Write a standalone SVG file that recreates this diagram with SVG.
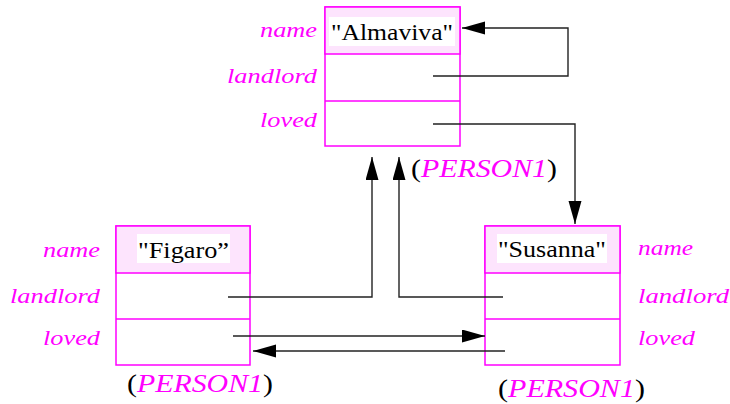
<svg xmlns="http://www.w3.org/2000/svg" width="730" height="404" viewBox="0 0 730 404" font-family="Liberation Serif, DejaVu Serif, Noto Serif, FreeSerif, Times, serif">
  <style>
    .box { fill: #ffffff; stroke: #ff00ff; stroke-width: 1.5; }
    .head { fill: #fde4fd; stroke: #ff00ff; stroke-width: 1.5; }
    .sep { stroke: #ff00ff; stroke-width: 1.5; }
    .tag { fill: #ffffff; }
    .val { font-size: 23px; fill: #000000; }
    .fld { font-style: italic; font-size: 22px; fill: #ff00ff; }
    .typ { font-size: 26px; fill: #000000; }
    .typ tspan.t { font-style: italic; fill: #ff00ff; }
    .wire { fill: none; stroke: #222222; stroke-width: 1.4; marker-end: url(#arrow); }
  </style>
  <defs>
    <marker id="arrow" markerUnits="userSpaceOnUse" markerWidth="24" markerHeight="14" refX="23" refY="6.5" orient="auto">
      <path d="M0,0 L23,6.5 L0,13 Z" fill="#000000"/>
    </marker>
  </defs>

  <rect width="730" height="404" fill="#ffffff"/>

  <!-- Almaviva record -->
  <g id="almaviva">
    <rect class="box" x="325" y="7" width="135" height="139"/>
    <rect class="head" x="325" y="7" width="135" height="47"/>
    <rect class="tag" x="329" y="17" width="126" height="29"/>
    <line class="sep" x1="325" y1="101" x2="460" y2="101"/>
    <text class="val" x="331" y="40" textLength="122" lengthAdjust="spacingAndGlyphs">"Almaviva"</text>
    <text class="fld" x="317" y="37" text-anchor="end" textLength="57" lengthAdjust="spacingAndGlyphs">name</text>
    <text class="fld" x="317" y="83" text-anchor="end" textLength="90" lengthAdjust="spacingAndGlyphs">landlord</text>
    <text class="fld" x="317" y="127" text-anchor="end" textLength="57" lengthAdjust="spacingAndGlyphs">loved</text>
    <text class="typ" x="411" y="177" textLength="146" lengthAdjust="spacingAndGlyphs">(<tspan class="t">PERSON1</tspan>)</text>
  </g>

  <!-- Figaro record -->
  <g id="figaro">
    <rect class="box" x="116" y="226" width="134" height="139"/>
    <rect class="head" x="116" y="226" width="134" height="47"/>
    <rect class="tag" x="137" y="234" width="93" height="29"/>
    <line class="sep" x1="116" y1="319" x2="250" y2="319"/>
    <text class="val" x="138" y="258" textLength="91" lengthAdjust="spacingAndGlyphs">"Figaro”</text>
    <text class="fld" x="100" y="257" text-anchor="end" textLength="57" lengthAdjust="spacingAndGlyphs">name</text>
    <text class="fld" x="100" y="303" text-anchor="end" textLength="90" lengthAdjust="spacingAndGlyphs">landlord</text>
    <text class="fld" x="100" y="345" text-anchor="end" textLength="57" lengthAdjust="spacingAndGlyphs">loved</text>
    <text class="typ" x="127" y="392" textLength="146" lengthAdjust="spacingAndGlyphs">(<tspan class="t">PERSON1</tspan>)</text>
  </g>

  <!-- Susanna record -->
  <g id="susanna">
    <rect class="box" x="485" y="226" width="135" height="139"/>
    <rect class="head" x="485" y="226" width="135" height="47"/>
    <rect class="tag" x="497" y="234" width="110" height="29"/>
    <line class="sep" x1="485" y1="319" x2="620" y2="319"/>
    <text class="val" x="498" y="257" textLength="108" lengthAdjust="spacingAndGlyphs">"Susanna"</text>
    <text class="fld" x="638" y="255" textLength="55" lengthAdjust="spacingAndGlyphs">name</text>
    <text class="fld" x="638" y="303" textLength="91" lengthAdjust="spacingAndGlyphs">landlord</text>
    <text class="fld" x="638" y="345" textLength="57" lengthAdjust="spacingAndGlyphs">loved</text>
    <text class="typ" x="498" y="397" textLength="147" lengthAdjust="spacingAndGlyphs">(<tspan class="t">PERSON1</tspan>)</text>
  </g>

  <!-- pointer fields -->
  <g id="connectors">
    <path class="wire" d="M433,76 H568 V28 H462"/>
    <path class="wire" d="M433,124 H575 V224"/>
    <path class="wire" d="M228,297 H372 V157"/>
    <path class="wire" d="M503,297 H399 V157"/>
    <path class="wire" d="M233,336 H485"/>
    <path class="wire" d="M505,351 H253"/>
  </g>
</svg>
